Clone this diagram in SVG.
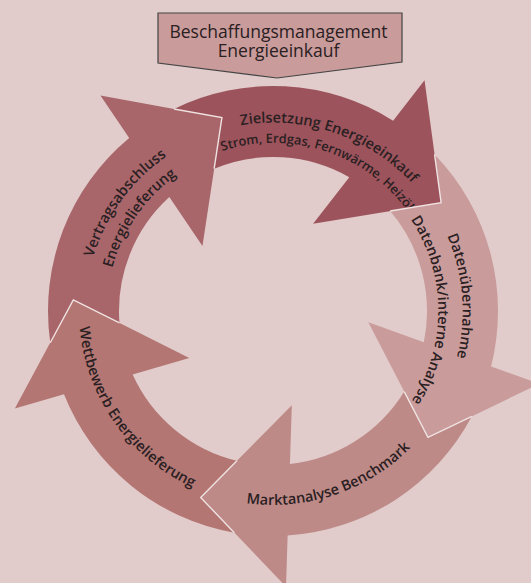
<svg xmlns="http://www.w3.org/2000/svg" xmlns:xlink="http://www.w3.org/1999/xlink" width="531" height="583" viewBox="0 0 531 583">
<style>
.lbl{font-family:"Open Sans","Noto Sans","DejaVu Sans",sans-serif;font-weight:600;font-size:14.5px;fill:#2a2022;}
.sub{font-size:12.8px;}
.hdr{font-family:"Open Sans","Noto Sans","DejaVu Sans",sans-serif;font-weight:400;font-size:17.5px;fill:#2a2022;text-anchor:middle;}
.seam{fill:none;stroke:#efe2e1;stroke-width:1.4;stroke-linejoin:miter;}
</style>
<defs>
<path id="arrow" d="M174.01,108.95 A225,225 0 0 1 393.13,120.75 L424.52,80.32 L441.12,202.66 L313.12,223.78 L349.28,177.21 A154,154 0 0 0 214.16,168.68 L221.91,117.64 Z"/>
<polyline id="seamLine" points="174.01,108.95 221.91,117.64 214.16,168.68"/>
<path id="pA1" d="M106.7,220.2 A190,190 0 0 1 460.7,340.4"/>
<path id="pA2" d="M126.1,232.2 A166,166 0 0 1 437.5,333.5"/>
<path id="pB1" d="M290.8,122.3 A189.5,189.5 0 0 1 320.8,494.4"/>
<path id="pB2" d="M300.9,147.9 A165.5,165.5 0 0 1 302.6,473.8"/>
<path id="pC" d="M102.7,403.9 A194,194 0 0 0 464.8,282.0"/>
<path id="pD" d="M135.6,174.1 A194,194 0 0 0 355.3,486.7"/>
<path id="pE1" d="M138.0,441.1 A187.5,187.5 0 0 1 355.4,142.5"/>
<path id="pE2" d="M155.7,429.1 A166.5,166.5 0 0 1 342.7,159.8"/>
</defs>
<rect width="531" height="583" fill="#e1cccb"/>
<g id="header">
<polygon points="158,13 402,13 402,62 277,78 158,63" fill="#c99b9b" stroke="#444" stroke-width="1.2"/>
<text class="hdr" x="278.5" y="38">Beschaffungsmanagement</text>
<text class="hdr" x="278.5" y="57">Energieeinkauf</text>
</g>
<g id="zielsetzung">
<use xlink:href="#arrow" href="#arrow" fill="#9c535c"/>
<text class="lbl"><textPath xlink:href="#pA1" href="#pA1" startOffset="50%" text-anchor="middle">Zielsetzung Energieeinkauf</textPath></text>
<text class="lbl sub"><textPath xlink:href="#pA2" href="#pA2" startOffset="50%" text-anchor="middle">Strom, Erdgas, Fernwärme, Heizöl</textPath></text>
</g>
<g id="datenuebernahme">
<use xlink:href="#arrow" href="#arrow" fill="#c99b9b" transform="rotate(72 273 311)"/>
<text class="lbl"><textPath xlink:href="#pB1" href="#pB1" startOffset="50%" text-anchor="middle">Datenübernahme</textPath></text>
<text class="lbl"><textPath xlink:href="#pB2" href="#pB2" startOffset="50%" text-anchor="middle">Datenbank/interne Analyse</textPath></text>
</g>
<g id="marktanalyse">
<use xlink:href="#arrow" href="#arrow" fill="#bd8a88" transform="rotate(144 273 311)"/>
<text class="lbl"><textPath xlink:href="#pC" href="#pC" startOffset="50%" text-anchor="middle">Marktanalyse Benchmark</textPath></text>
</g>
<g id="wettbewerb">
<use xlink:href="#arrow" href="#arrow" fill="#b37673" transform="rotate(216 273 311)"/>
<text class="lbl"><textPath xlink:href="#pD" href="#pD" startOffset="50%" text-anchor="middle">Wettbewerb Energielieferung</textPath></text>
</g>
<g id="vertragsabschluss">
<use xlink:href="#arrow" href="#arrow" fill="#a8666b" transform="rotate(288 273 311)"/>
<text class="lbl"><textPath xlink:href="#pE1" href="#pE1" startOffset="50%" text-anchor="middle">Vertragsabschluss</textPath></text>
<text class="lbl"><textPath xlink:href="#pE2" href="#pE2" startOffset="50%" text-anchor="middle">Energielieferung</textPath></text>
</g>
<g id="connectors">
<use xlink:href="#seamLine" href="#seamLine" class="seam"/>
<use xlink:href="#seamLine" href="#seamLine" class="seam" transform="rotate(72 273 311)"/>
<use xlink:href="#seamLine" href="#seamLine" class="seam" transform="rotate(144 273 311)"/>
<use xlink:href="#seamLine" href="#seamLine" class="seam" transform="rotate(216 273 311)"/>
<use xlink:href="#seamLine" href="#seamLine" class="seam" transform="rotate(288 273 311)"/>
</g>
</svg>
